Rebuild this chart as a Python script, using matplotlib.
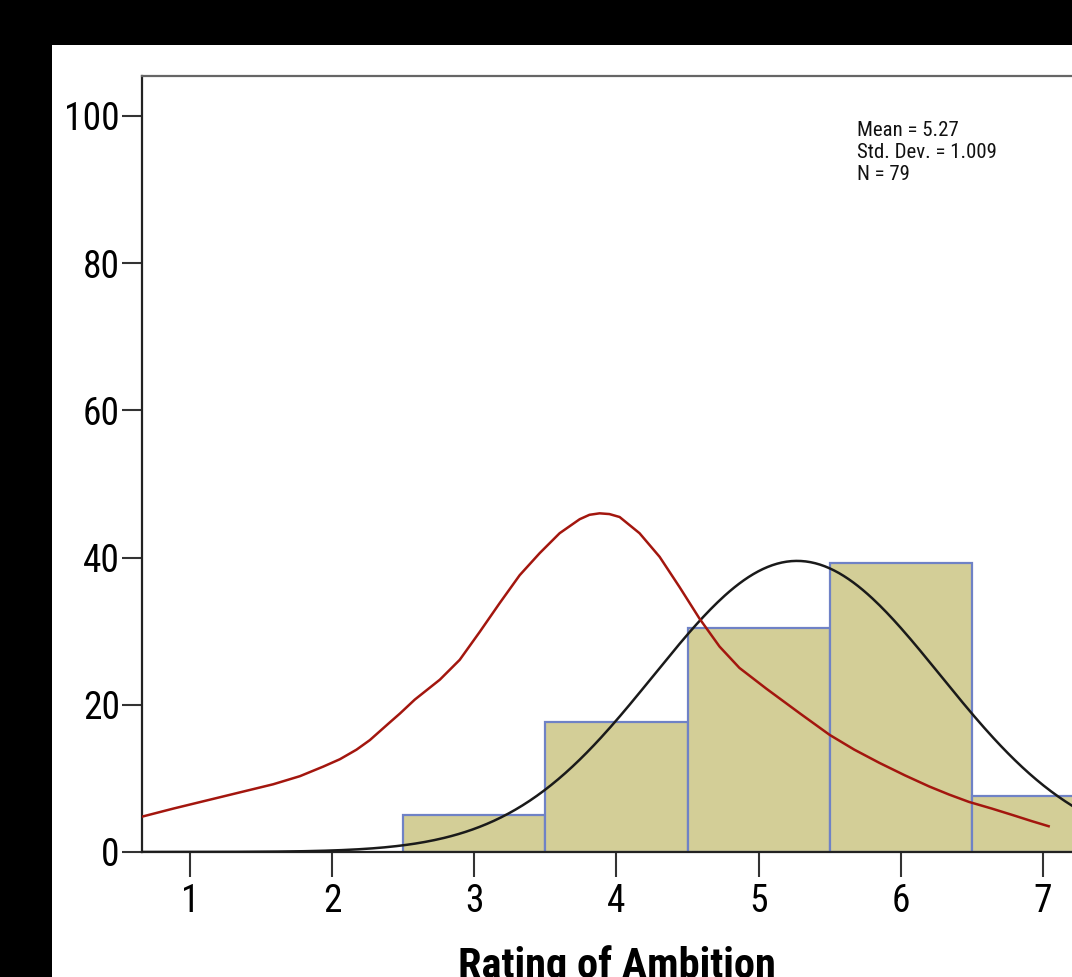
import numpy as np
import matplotlib
matplotlib.use('Agg')
from matplotlib import pyplot as plt
from matplotlib.patches import Rectangle

# histogram: rating bins and counts (N = 79), shown as percent
ratings = [3, 4, 5, 6, 7]
counts = [4, 14, 24, 31, 6]
n_total = 79
mean_val = 5.27
sd_val = 1.009
stats_lines = ['Mean = 5.27', 'Std. Dev. = 1.009', 'N = 79']

# red curve
red_x = [0.662, 0.883, 1.117, 1.351, 1.585, 1.773, 1.937, 2.054, 2.171, 2.265,
         2.335, 2.405, 2.476, 2.581, 2.757, 2.897, 3.038, 3.178, 3.319, 3.460,
         3.600, 3.741, 3.81, 3.881, 3.95, 4.022, 4.162, 4.303, 4.443, 4.584,
         4.725, 4.865, 5.053, 5.292, 5.50, 5.673, 5.85, 6.03, 6.20, 6.34,
         6.48, 6.64, 6.79, 6.92, 7.04]
red_y = [4.8, 5.9, 7.0, 8.1, 9.2, 10.3, 11.6, 12.6, 13.9, 15.2,
         16.4, 17.6, 18.8, 20.7, 23.4, 26.1, 29.9, 33.8, 37.6, 40.6,
         43.3, 45.2, 45.8, 46.0, 45.9, 45.5, 43.3, 40.1, 36.0, 31.7,
         27.9, 25.0, 22.2, 18.8, 15.9, 13.9, 12.1, 10.4, 8.9, 7.8,
         6.8, 5.9, 5.0, 4.2, 3.5]

y_ticks = [0, 20, 40, 60, 80, 100]
x_ticks = [1, 2, 3, 4, 5, 6, 7]

W, H = 1072, 977
fig = plt.figure(figsize=(W / 100, H / 100), dpi=100, facecolor='black')
fig.patches.append(Rectangle((52 / W, 0), 1 - 52 / W, (H - 45) / H,
                             transform=fig.transFigure, facecolor='white',
                             edgecolor='none', zorder=-5))

ax = fig.add_axes([142 / W, (H - 852) / H, (1091 - 142) / W, (852 - 76) / H])
ax.set_facecolor('white')
narrow = ['Roboto Condensed', 'DejaVu Sans']

pct = [c / n_total * 100 for c in counts]
ax.bar(ratings, pct, width=1.0, color='#d3ce97', edgecolor='#6f82c6',
       linewidth=1.6, zorder=2)

# fitted normal curve from the reported mean / sd
xs = np.linspace(0.66, 7.34, 400)
norm = 100 / (sd_val * np.sqrt(2 * np.pi)) * np.exp(-0.5 * ((xs - mean_val) / sd_val) ** 2)
ax.plot(xs, norm, color='#1a1a1a', lw=1.8, zorder=3)
ax.plot(red_x, red_y, color='#a3160e', lw=1.8, zorder=4, solid_joinstyle='round')

ax.set_xlim(0.662, 7.338)
ax.set_ylim(0, 105.4)
ax.set_xticks(x_ticks)
ax.set_yticks(y_ticks)
ax.set_xticklabels([str(t) for t in x_ticks], family=narrow, fontsize=27)
ax.set_yticklabels([str(t) for t in y_ticks], family=narrow, fontsize=27)
ax.tick_params(axis='x', length=18, width=1.5, color='#333333', pad=4)
ax.tick_params(axis='y', length=14.5, width=1.5, color='#333333', pad=1.5)

for side in ['left', 'bottom']:
    ax.spines[side].set_color('#222222')
    ax.spines[side].set_linewidth(1.6)
ax.spines['top'].set_color('#666666')
ax.spines['top'].set_linewidth(1.6)
ax.spines['right'].set_visible(False)

# the reference crops this label at the bottom edge
ax.set_xlabel('Rating of Ambition', family=narrow, fontsize=30.5, fontweight='bold')
ax.xaxis.set_label_coords(0.5, -0.12)

for i, line in enumerate(stats_lines):
    ax.text(5.694, 97.2 - i * 2.95, line, family=narrow, fontsize=15,
            va='baseline', ha='left', color='#111111')

fig.savefig('out.png', dpi=100, facecolor='black')
